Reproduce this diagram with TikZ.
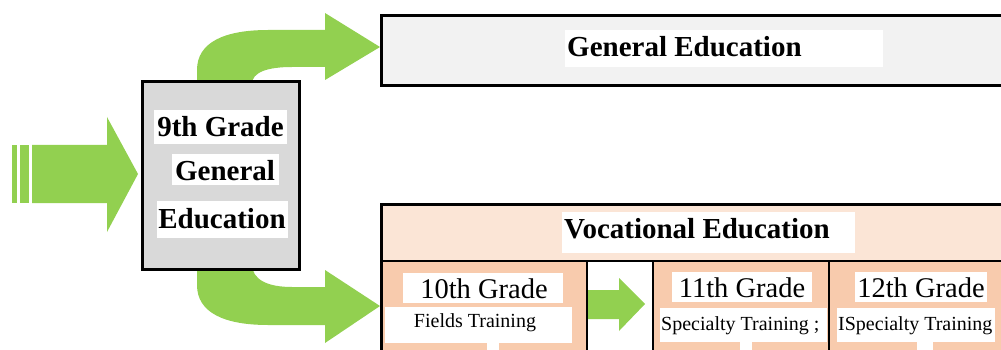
\documentclass[tikz,border=0pt]{standalone}
\usepackage{fontspec}
\setmainfont{Liberation Serif}
\definecolor{arrowgreen}{HTML}{92D050}
\definecolor{boxgray}{HTML}{D9D9D9}
\definecolor{topgray}{HTML}{F2F2F2}
\definecolor{peachlight}{HTML}{FBE5D6}
\definecolor{peach}{HTML}{F8CBAD}
\begin{document}
\begin{tikzpicture}[x=1pt,y=-1pt,
  frame/.style={draw=black, line width=2.6pt},
  greenshape/.style={fill=arrowgreen, draw=none},
  bigfont/.style={font=\fontsize{29}{30}\selectfont\bfseries},
  midfont/.style={font=\fontsize{28.5}{30}\selectfont},
  smallfont/.style={font=\fontsize{20}{22}\selectfont},
  txt/.style={inner sep=0pt, anchor=base},
  txtl/.style={inner sep=0pt, anchor=base west},
  bg/.style={fill=white}]
\useasboundingbox (0,0) rectangle (1001,350);
\clip (0,0) rectangle (1001,350);

% vocational fills
\fill[peachlight] (380,203) rectangle (1010,261);
\fill[peach] (380,261) rectangle (587,360);
\fill[white] (587,261) rectangle (653,360);
\fill[peach] (653,261) rectangle (829,360);
\fill[peach] (829,261) rectangle (1010,360);

% left incoming arrow
\fill[greenshape] (12,145) rectangle (17,203);
\fill[greenshape] (20,145) rectangle (29,203);
\fill[greenshape] (32,145) -- (107,145) -- (107,117) -- (138,174) -- (107,232) -- (107,203) -- (32,203) -- cycle;

% curved arrow up
\fill[greenshape] (197,84) -- (197,70) .. controls (197,42) and (225,30) .. (268,30) -- (325,30) -- (325,13) -- (380,47) -- (325,80) -- (325,67) -- (292,67) .. controls (268,67) and (252,72) .. (252,84) -- cycle;
% curved arrow down
\fill[greenshape] (197,264) -- (197,285) .. controls (197,313) and (225,325) .. (268,325) -- (325,325) -- (325,343) -- (380,306) -- (325,270) -- (325,287) -- (292,287) .. controls (268,287) and (252,280) .. (252,264) -- cycle;

% small arrow between 10th and 11th
\fill[greenshape] (588,290) -- (619,290) -- (619,278) -- (645,304) -- (619,331) -- (619,319) -- (588,319) -- cycle;

% boxes
\node[frame, fill=boxgray, anchor=north west, minimum width=157pt, minimum height=188pt, inner sep=0pt] (ninth) at (141,80) {};
\node[frame, fill=topgray, anchor=north west, minimum width=640pt, minimum height=70pt, inner sep=0pt] (general) at (380,14) {};
\node[frame, anchor=north west, minimum width=640pt, minimum height=200pt, inner sep=0pt] (voc) at (380,203) {};
\draw[frame] (380,261) -- (1010,261);
\draw[frame] (587,261) -- (587,360);
\draw[frame] (653,261) -- (653,360);
\draw[frame] (829,261) -- (829,360);

% white backgrounds of the texts
\fill[bg] (154,110) rectangle (287,144);
\fill[bg] (172,154) rectangle (279,185);
\fill[bg] (157,201) rectangle (288,238);
\fill[bg] (565,30) rectangle (883,67);
\fill[bg] (562,212) rectangle (855,253);
\fill[bg] (403,273) rectangle (563,303);
\fill[bg] (385,307) rectangle (572,343);
\fill[bg] (487,342) rectangle (499,351);
\fill[bg] (672,272) rectangle (812,302);
\fill[bg] (660,308) rectangle (827,342);
\fill[bg] (740,341) rectangle (752,351);
\fill[bg] (855,272) rectangle (987,302);
\fill[bg] (837,308) rectangle (995,342);
\fill[bg] (917,341) rectangle (933,351);

% texts
\node[txt, bigfont] (l9a) at (220.5,137) {9th Grade};
\node[txt, bigfont] (l9b) at (225,180) {General};
\node[txt, bigfont] (l9c) at (222,228) {Education};
\node[txtl, bigfont] (lgen) at (567,57) {General Education};
\node[txtl, bigfont] (lvoc) at (564,238) {Vocational Education};
\node[txt, midfont] (l10) at (484,298) {10th Grade};
\node[txt, smallfont] (l10b) at (475,327) {Fields Training};
\node[txt, midfont] (l11) at (742,297) {11th Grade};
\node[txtl, smallfont] (l11b) at (661,330) {Specialty Training ;};
\node[txt, midfont] (l12) at (921,297) {12th Grade};
\node[txtl, smallfont] (l12b) at (838,330) {ISpecialty Training};
\end{tikzpicture}
\end{document}
